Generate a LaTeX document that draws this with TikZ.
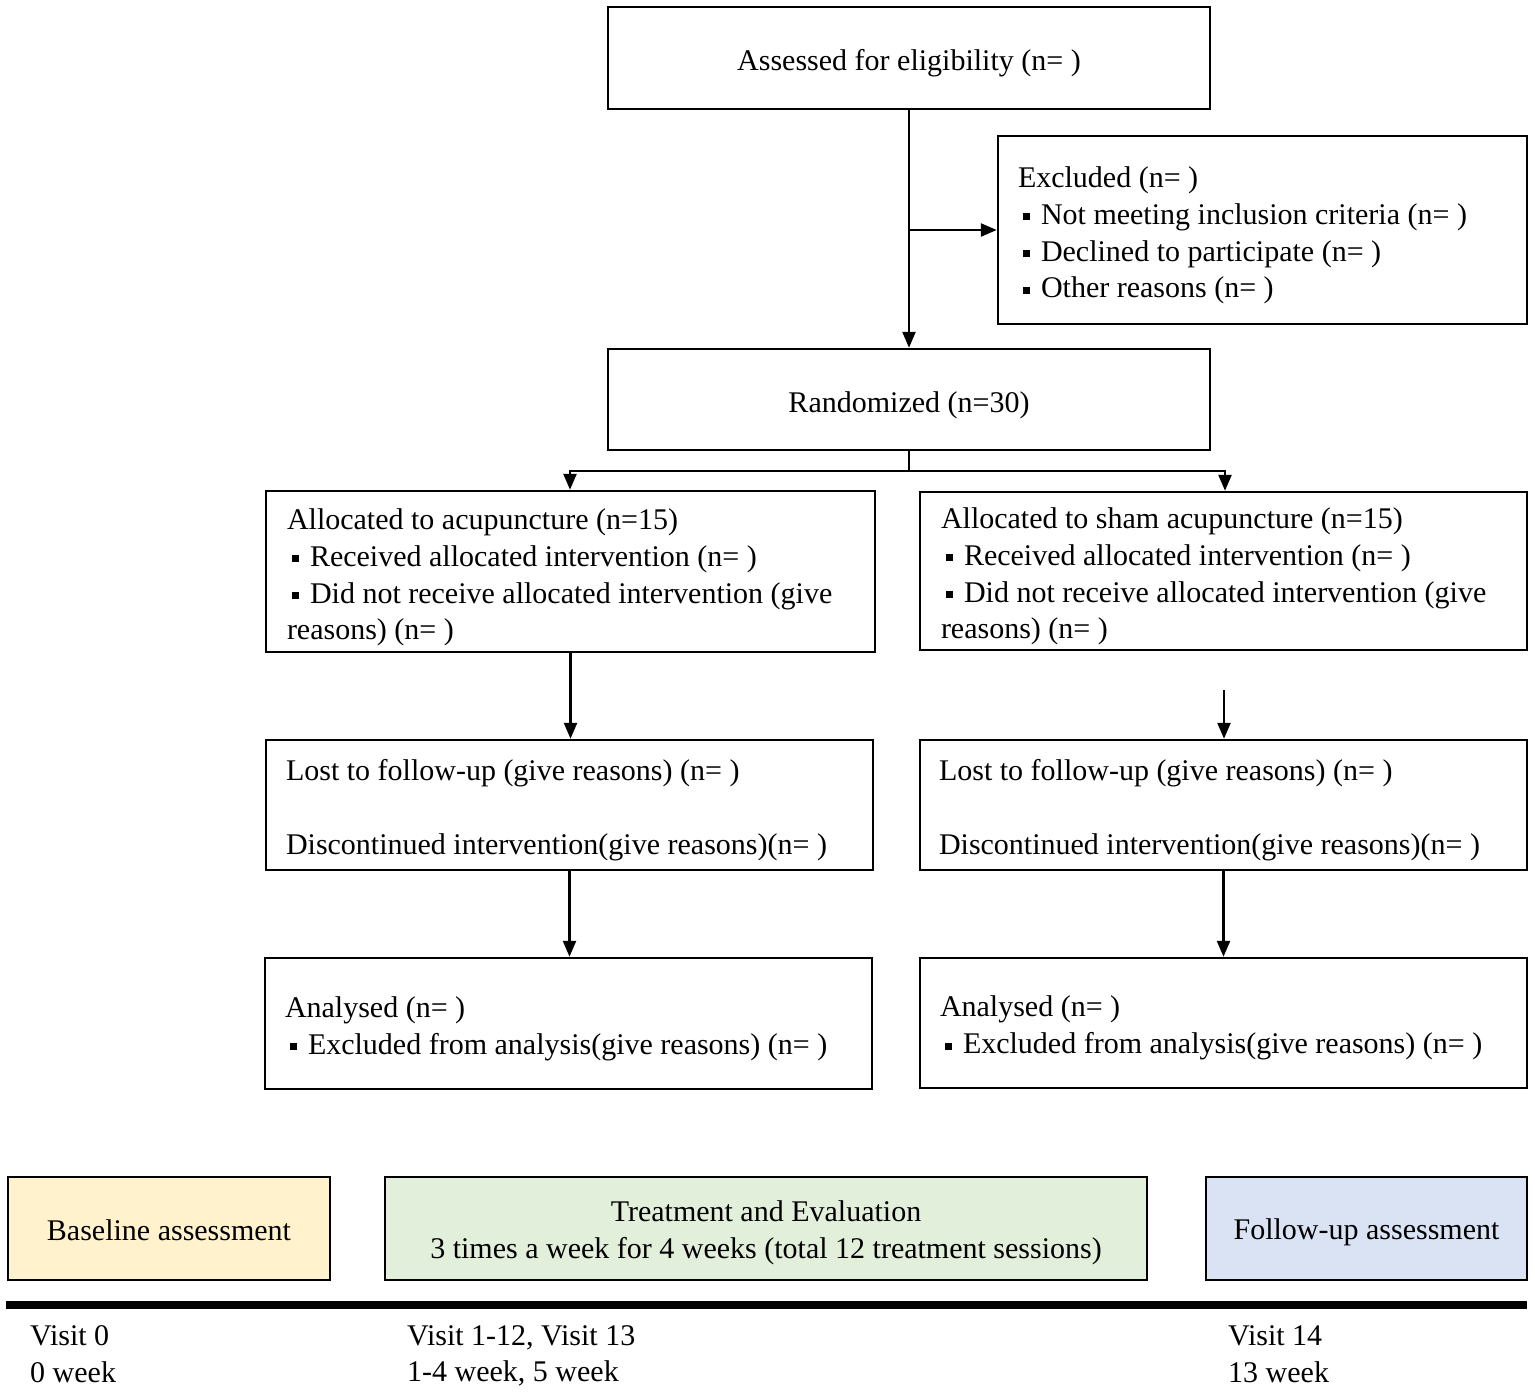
\documentclass[tikz,border=0pt]{standalone}
\usepackage{fontspec}
\setmainfont{Liberation Serif}
\usetikzlibrary{arrows.meta}
\definecolor{baseY}{RGB}{255,242,204}
\definecolor{treatG}{RGB}{226,239,218}
\definecolor{follB}{RGB}{218,227,243}
\newcommand\sqb{\hspace{5pt}\rule[4pt]{7pt}{7pt}\hspace{11pt}}
\begin{document}
\begin{tikzpicture}[x=1pt,y=-1pt,
  every node/.style={font=\fontsize{30}{36.7}\selectfont},
  box/.style={draw,line width=2.5pt,rectangle,inner sep=0pt},
  txt/.style={inner sep=0pt,align=left,text width=#1,
    execute at begin node={\spaceskip=0pt\xspaceskip=0pt\relax}},
  ctxt/.style={inner sep=0pt,align=center},
  arr/.style={line width=2.5pt,-{Triangle[length=16pt,width=13pt]}},
  conn/.style={line width=2.5pt}]
\useasboundingbox (0,0) rectangle (1535,1392);

% boxes
\node[box,minimum width=602pt,minimum height=102pt] (assess) at (909,58) {};
\node[box,minimum width=529pt,minimum height=188pt] (excl) at (1262.5,230) {};
\node[box,minimum width=602pt,minimum height=101pt] (rand) at (909,399.5) {};
\node[box,minimum width=609pt,minimum height=161pt] (allocL) at (570.5,571.5) {};
\node[box,minimum width=607pt,minimum height=158pt] (allocR) at (1223.5,571) {};
\node[box,minimum width=607pt,minimum height=130pt] (lostL) at (569.5,805) {};
\node[box,minimum width=607pt,minimum height=130pt] (lostR) at (1223.5,805) {};
\node[box,minimum width=607pt,minimum height=131pt] (anaL) at (568.5,1023.5) {};
\node[box,minimum width=607pt,minimum height=130pt] (anaR) at (1223.5,1023) {};
\node[box,fill=baseY,minimum width=322pt,minimum height=103pt] (base) at (169,1228.5) {};
\node[box,fill=treatG,minimum width=762pt,minimum height=103pt] (treat) at (766,1228.5) {};
\node[box,fill=follB,minimum width=321pt,minimum height=103pt] (foll) at (1366.5,1228.5) {};

% texts
\node[ctxt] (assessT) at ([yshift=-5pt]assess.center) {Assessed for eligibility (n= )};
\node[txt=489pt] (exclT) at ([yshift=-5.5pt]excl.center)
 {Excluded (n= )\\ \sqb Not meeting inclusion criteria (n= )\\ \sqb Declined to participate (n= )\\ \sqb Other reasons (n= )};
\node[ctxt] (randT) at ([yshift=-6pt]rand.center) {Randomized (n=30)};
\node[txt=567pt] (allocLT) at ([yshift=-6pt]allocL.center)
 {Allocated to acupuncture (n=15)\\ \sqb Received allocated intervention (n= )\\ \sqb Did not receive allocated intervention (give\\ reasons) (n= )};
\node[txt=565pt] (allocRT) at ([yshift=-5.5pt]allocR.center)
 {Allocated to sham acupuncture (n=15)\\ \sqb Received allocated intervention (n= )\\ \sqb Did not receive allocated intervention (give\\ reasons) (n= )};
\node[txt=567pt] (lostLT) at ([yshift=-5pt]lostL.center)
 {Lost to follow-up (give reasons) (n= )\\[36.7pt] Discontinued intervention(give reasons)(n= )};
\node[txt=569pt] (lostRT) at ([yshift=-5pt]lostR.center)
 {Lost to follow-up (give reasons) (n= )\\[36.7pt] Discontinued intervention(give reasons)(n= )};
\node[txt=567pt] (anaLT) at ([yshift=-5pt]anaL.center)
 {Analysed (n= )\\ \sqb Excluded from analysis(give reasons) (n= )};
\node[txt=567pt] (anaRT) at ([yshift=-5pt]anaR.center)
 {Analysed (n= )\\ \sqb Excluded from analysis(give reasons) (n= )};
\node[ctxt] (baseT) at ([yshift=-2pt]base.center) {Baseline assessment};
\node[ctxt] (treatT) at ([yshift=-4pt]treat.center)
 {Treatment and Evaluation\\ 3 times a week for 4 weeks (total 12 treatment sessions)};
\node[ctxt] (follT) at ([yshift=-4pt]foll.center) {Follow-up assessment};

% connectors
\draw[arr] (assess.south) -- (rand.north);
\draw[arr] (assess.south |- excl.west) -- (excl.west);
\coordinate (split) at (909,471);
\draw[conn] (rand.south) -- (split);
\draw[arr] (split) -| ([xshift=-0.5pt]allocL.north);
\draw[arr] (split) -| ([xshift=1.5pt]allocR.north);
\draw[arr] (allocL.south) -- (allocL.south |- lostL.north);
\coordinate (rstart) at (1224,690);
\draw[arr] (rstart) -- (rstart |- lostR.north);
\draw[arr] (lostL.south) -- (lostL.south |- anaL.north);
\draw[arr] (lostR.south) -- (lostR.south |- anaR.north);

% timeline
\coordinate (tlL) at (6,1305);
\coordinate (tlR) at (1527,1305);
\draw[line width=8pt] (tlL) -- (tlR);

\node[anchor=west,align=left,inner sep=0pt] (v0) at (30,1354.5) {Visit 0\\ 0 week};
\node[anchor=west,align=left,inner sep=0pt] (v1) at (407,1356) {Visit 1-12, Visit 13\\ 1-4 week, 5 week};
\node[anchor=west,align=left,inner sep=0pt] (v14) at (1228,1354.5) {Visit 14\\ 13 week};
\end{tikzpicture}
\end{document}
